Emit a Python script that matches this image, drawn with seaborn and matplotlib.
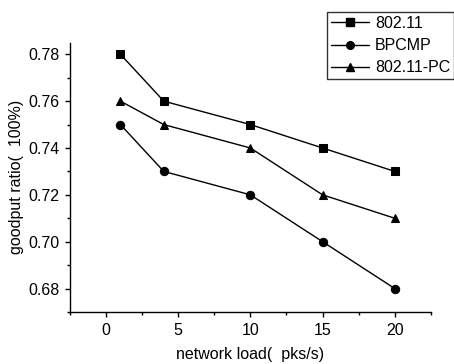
import numpy as np
import pandas as pd
import seaborn as sns
import matplotlib.pyplot as plt
from matplotlib.ticker import MultipleLocator

# data
load = [1, 4, 10, 15, 20]
series_names = ['802.11', 'BPCMP', '802.11-PC']
ratio_80211 = [0.78, 0.76, 0.75, 0.74, 0.73]
ratio_bpcmp = [0.75, 0.73, 0.72, 0.70, 0.68]
ratio_pc = [0.76, 0.75, 0.74, 0.72, 0.71]

df = pd.DataFrame({
    'load': load * 3,
    'ratio': ratio_80211 + ratio_bpcmp + ratio_pc,
    'series': [s for s in series_names for _ in load],
})

sns.set_style('ticks', {'text.color': 'black', 'axes.labelcolor': 'black',
                        'xtick.color': 'black', 'ytick.color': 'black'})
plt.rcParams['font.family'] = ['Liberation Sans', 'DejaVu Sans']
fs = 11.5

fig = plt.figure(figsize=(4.54, 3.64), dpi=100)
ax = fig.add_axes([0.154, 0.143, 0.795, 0.74])

sns.lineplot(data=df, x='load', y='ratio', hue='series', style='series',
             palette=['black'] * 3, markers=['s', 'o', '^'], dashes=False,
             markersize=6, linewidth=1, markeredgecolor='black', ax=ax, legend=False)

ax.set_xlim(-2.5, 22.5)
ax.set_ylim(0.67, 0.785)
ax.xaxis.set_major_locator(MultipleLocator(5))
ax.xaxis.set_minor_locator(MultipleLocator(2.5))
ax.yaxis.set_major_locator(MultipleLocator(0.02))
ax.yaxis.set_minor_locator(MultipleLocator(0.01))
ax.yaxis.set_major_formatter(plt.FormatStrFormatter('%.2f'))
ax.tick_params(which='major', length=3.6, width=1, labelsize=fs, color='black',
               labelcolor='black', pad=4)
ax.tick_params(which='minor', length=2.5, width=1, color='black')
for s in ['left', 'bottom']:
    ax.spines[s].set_color('black')
    ax.spines[s].set_linewidth(1)
sns.despine(ax=ax)

ax.set_xlabel('network load(  pks/s)', fontsize=fs, labelpad=7, color='black')
ax.set_ylabel('goodput ratio(  100%)', fontsize=fs, labelpad=3, color='black')

handles = [plt.Line2D([], [], color='black', marker=m, markersize=5.5, linewidth=1)
           for m in ['s', 'o', '^']]
leg = fig.legend(handles, series_names, loc='upper right',
                 bbox_to_anchor=(1.0, 0.967), frameon=True, fancybox=False,
                 edgecolor='black', fontsize=fs, handlelength=2.4, handletextpad=0.35,
                 borderpad=0.25, labelspacing=0.45, borderaxespad=0,
                 labelcolor='black')
leg.get_frame().set_linewidth(1)

fig.savefig('out.png', dpi=100)
